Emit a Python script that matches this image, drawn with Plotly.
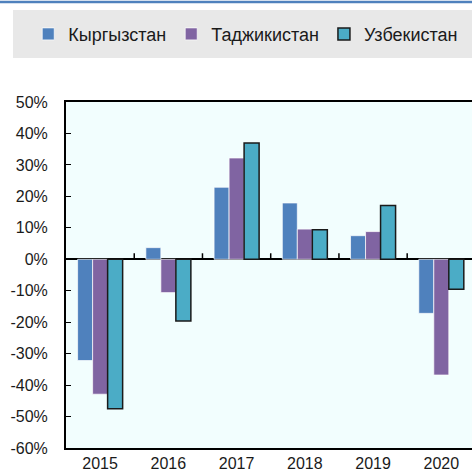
import plotly.graph_objects as go

years = ["2015", "2016", "2017", "2018", "2019", "2020"]
kyrgyzstan = [-32.2, 3.7, 22.9, 17.9, 7.5, -17.2]
tajikistan = [-42.9, -10.6, 32.2, 9.6, 8.8, -36.8]
uzbekistan = [-47.5, -19.6, 37.0, 9.4, 17.1, -9.5]
series_names = ["Кыргызстан", "Таджикистан", "Узбекистан"]
y_ticks = [50, 40, 30, 20, 10, 0, -10, -20, -30, -40, -50, -60]
y_tick_labels = [f"{v}%" for v in y_ticks]

colors = ["#4F81BD", "#8064A2", "#4BACC6"]
lines = [dict(color="rgba(255,255,255,0.7)", width=1),
         dict(color="rgba(255,255,255,0.7)", width=1),
         dict(color="#1a1a1a", width=1.5)]

fig = go.Figure()
for name, vals, c, ln in zip(series_names, [kyrgyzstan, tajikistan, uzbekistan], colors, lines):
    fig.add_trace(go.Bar(x=years, y=vals, name=name, marker=dict(color=c, line=ln)))

# tick marks on the zero line at category boundaries
for i in range(len(years) - 1):
    fig.add_shape(type="line", xref="x", yref="y", x0=i + 0.5, x1=i + 0.5,
                  ysizemode="pixel", yanchor=0, y0=0, y1=6,
                  line=dict(color="black", width=1.5))

# legend background band and top rule
fig.add_shape(type="rect", xref="paper", yref="paper", x0=-0.1305, x1=1.0, y0=1.1272, y1=1.2659,
              fillcolor="#E8E8E8", line=dict(width=0), layer="below")
fig.add_shape(type="line", xref="paper", yref="paper", x0=-0.2, x1=1.0, y0=1.2890, y1=1.2890,
              line=dict(color="#4F81BD", width=2.5))

fig.update_layout(
    width=472, height=473,
    margin=dict(l=66, r=0, t=102, b=25),
    paper_bgcolor="white",
    plot_bgcolor="#F2FEFE",
    barmode="group",
    bargap=0.34,
    bargroupgap=0,
    font=dict(family="Liberation Sans, Arial, sans-serif", size=16, color="#1a1a1a"),
    showlegend=True,
    legend=dict(orientation="h", x=-0.093, xanchor="left", y=1.196, yanchor="middle",
                bgcolor="rgba(0,0,0,0)", font=dict(size=18), itemwidth=30,
                traceorder="normal"),
    xaxis=dict(type="category", range=[-0.5, 5.45], showline=True, linecolor="black",
               linewidth=2, mirror=True, ticks="", showgrid=False, zeroline=False,
               tickfont=dict(size=16)),
    yaxis=dict(range=[-60, 50], tickmode="array", tickvals=y_ticks, ticktext=y_tick_labels,
               showline=True, linecolor="black", linewidth=2, ticks="inside", ticklen=5,
               tickcolor="black", showgrid=False, zeroline=True, zerolinecolor="black",
               zerolinewidth=2, tickfont=dict(size=16), ticklabelstandoff=13),
)

fig.write_html("out.html", config={"displayModeBar": False},
               post_script="document.body.style.margin='0';document.body.style.overflow='hidden';")
